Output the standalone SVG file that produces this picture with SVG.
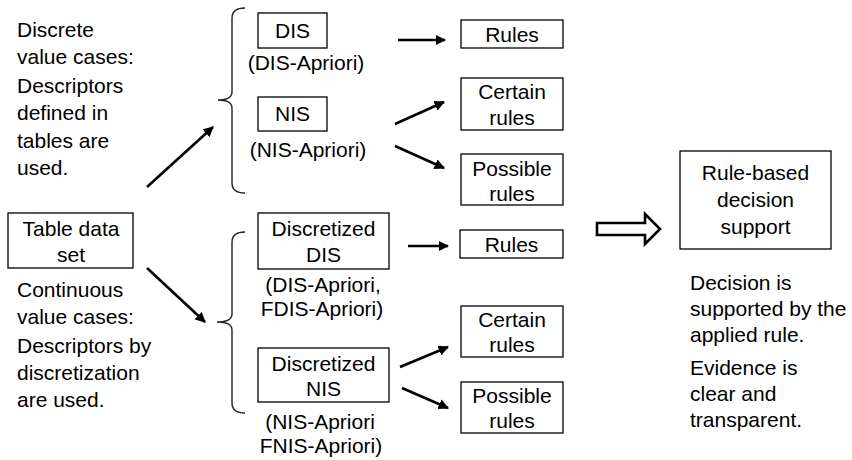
<svg xmlns="http://www.w3.org/2000/svg" width="852" height="460" viewBox="0 0 852 460">
<style>
text{font-family:"Liberation Sans",Arial,sans-serif;font-size:21px;fill:#000}
.m{text-anchor:middle}
.box{fill:#fff;stroke:#000;stroke-width:1.3}
.br{fill:none;stroke:#222;stroke-width:1.4}
.ar{stroke:#000;stroke-width:2.6;fill:none;marker-end:url(#ah)}
</style>
<defs>
<marker id="ah" viewBox="0 0 10 10" refX="9" refY="5" markerWidth="4" markerHeight="4" orient="auto" markerUnits="strokeWidth">
<path d="M0,0 L10,5 L0,10 z" fill="#000"/>
</marker>
</defs>
<rect width="852" height="460" fill="#fff"/>

<g id="desc-discrete">
<text x="17" y="37">Discrete</text>
<text x="17" y="64">value cases:</text>
<text x="17" y="93">Descriptors</text>
<text x="17" y="120">defined in</text>
<text x="17" y="148">tables are</text>
<text x="17" y="175">used.</text>
</g>
<g id="desc-continuous">
<text x="17" y="297">Continuous</text>
<text x="17" y="324">value cases:</text>
<text x="17" y="353">Descriptors by</text>
<text x="17" y="380">discretization</text>
<text x="17" y="407">are used.</text>
</g>
<g id="table">
<rect class="box" x="8" y="213" width="125" height="55"/>
<text class="m" x="71" y="236">Table data</text>
<text class="m" x="71" y="262">set</text>
</g>

<g id="dis">
<rect class="box" x="258" y="13" width="69" height="35"/>
<text class="m" x="292.5" y="38">DIS</text>
<text class="m" x="306" y="70">(DIS-Apriori)</text>
</g>
<g id="nis">
<rect class="box" x="258" y="97" width="69" height="34"/>
<text class="m" x="292.5" y="121">NIS</text>
<text class="m" x="308" y="157">(NIS-Apriori)</text>
</g>
<g id="rules1">
<rect class="box" x="461" y="20" width="102" height="28"/>
<text class="m" x="512" y="42">Rules</text>
</g>
<g id="certain1">
<rect class="box" x="461" y="78" width="102" height="52"/>
<text class="m" x="512" y="99">Certain</text>
<text class="m" x="512" y="125">rules</text>
</g>
<g id="possible1">
<rect class="box" x="461" y="154" width="102" height="51"/>
<text class="m" x="512" y="176">Possible</text>
<text class="m" x="512" y="201">rules</text>
</g>

<g id="ddis">
<rect class="box" x="258" y="213" width="131" height="56"/>
<text class="m" x="323.5" y="236">Discretized</text>
<text class="m" x="323.5" y="262">DIS</text>
<text class="m" x="323" y="292">(DIS-Apriori,</text>
<text class="m" x="322" y="316">FDIS-Apriori)</text>
</g>
<g id="dnis">
<rect class="box" x="258" y="348" width="131" height="54"/>
<text class="m" x="323.5" y="371">Discretized</text>
<text class="m" x="323.5" y="396">NIS</text>
<text class="m" x="320" y="429">(NIS-Apriori</text>
<text class="m" x="321" y="453">FNIS-Apriori)</text>
</g>
<g id="rules2">
<rect class="box" x="460" y="230" width="103" height="28"/>
<text class="m" x="511.5" y="252">Rules</text>
</g>
<g id="certain2">
<rect class="box" x="461" y="306" width="102" height="51"/>
<text class="m" x="512" y="327">Certain</text>
<text class="m" x="512" y="352">rules</text>
</g>
<g id="possible2">
<rect class="box" x="461" y="382" width="102" height="51"/>
<text class="m" x="512" y="403">Possible</text>
<text class="m" x="512" y="428">rules</text>
</g>

<g id="decision">
<rect class="box" x="680" y="151" width="151" height="98"/>
<text class="m" x="755.5" y="180">Rule-based</text>
<text class="m" x="755.5" y="207">decision</text>
<text class="m" x="755.5" y="234">support</text>
</g>
<g id="desc-decision">
<text x="690" y="290">Decision is</text>
<text x="690" y="316">supported by the</text>
<text x="690" y="342">applied rule.</text>
<text x="690" y="375">Evidence is</text>
<text x="690" y="401">clear and</text>
<text x="690" y="427">transparent.</text>
</g>

<g id="connectors">
<path class="br" d="M245,8 Q232,8 232,18 L232,92 Q232,100 218,100 Q232,100 232,108 L232,183 Q232,193 245,193"/>
<path class="br" d="M245,232 Q232,232 232,242 L232,314 Q232,322 217,322 Q232,322 232,330 L232,403 Q232,413 245,413"/>
<line class="ar" x1="147" y1="187" x2="213" y2="127"/>
<line class="ar" x1="147" y1="268" x2="205" y2="322"/>
<line class="ar" x1="398" y1="40" x2="445" y2="40"/>
<line class="ar" x1="395" y1="124" x2="444" y2="102"/>
<line class="ar" x1="395" y1="146" x2="444" y2="168"/>
<line class="ar" x1="408" y1="246" x2="448" y2="246"/>
<line class="ar" x1="400" y1="367" x2="448" y2="347"/>
<line class="ar" x1="402" y1="388" x2="448" y2="408"/>
<polygon points="597,223 645,223 645,214 660,229 645,244 645,235 597,235" fill="#fff" stroke="#000" stroke-width="2.6"/>
</g>
</svg>
